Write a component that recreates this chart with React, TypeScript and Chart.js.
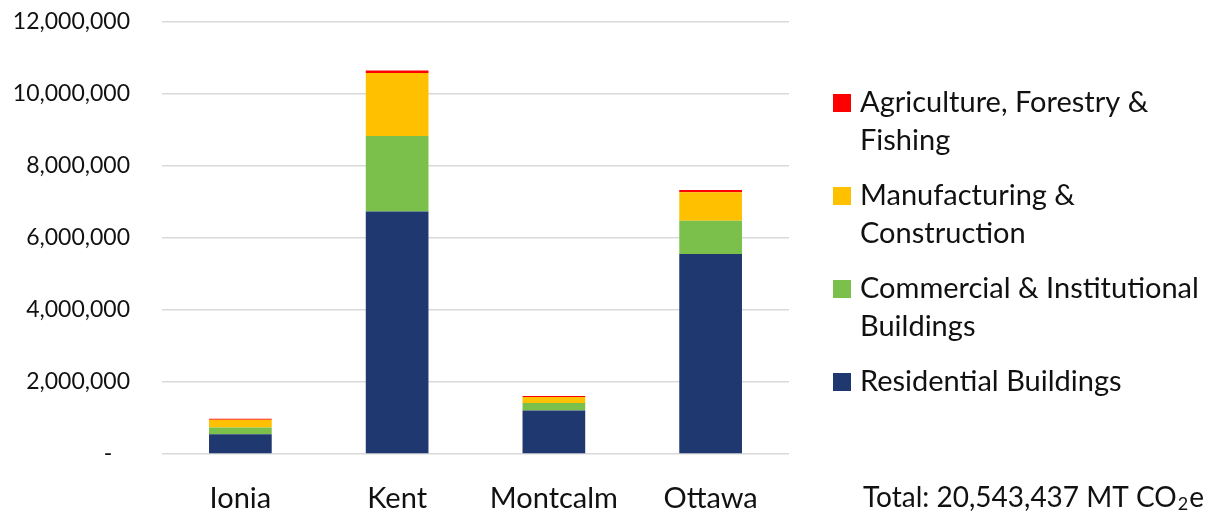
import { useEffect, useRef } from 'react';
import { Chart, registerables } from 'chart.js';

Chart.register(...registerables);

const categories = ['Ionia', 'Kent', 'Montcalm', 'Ottawa'];
const residential = [550000, 6735000, 1210000, 5556000];
const commercial = [187000, 2094000, 203000, 918000];
const manufacturing = [214000, 1752000, 167000, 790000];
const agriculture = [28000, 64000, 28000, 64000];

const seriesNames = [
  'Residential Buildings',
  'Commercial & Institutional Buildings',
  'Manufacturing & Construction',
  'Agriculture, Forestry & Fishing',
];
const seriesColors = ['#1F3870', '#7AC04A', '#FFC000', '#FF0000'];

// legend lines (top to bottom), wrapped like the reference
const legendEntries: { lines: string[]; color: string }[] = [
  { lines: ['Agriculture, Forestry &', 'Fishing'], color: seriesColors[3] },
  { lines: ['Manufacturing &', 'Construction'], color: seriesColors[2] },
  { lines: ['Commercial & Institutional', 'Buildings'], color: seriesColors[1] },
  { lines: ['Residential Buildings'], color: seriesColors[0] },
];

const totalMain = 'Total: 20,543,437 MT CO';
const totalSub = '2';
const totalEnd = 'e';

const yMax = 12000000;
const yStep = 2000000;

const FONT = 'Lato';
const TEXT = '#111111';

const sideLegend = {
  id: 'sideLegend',
  afterDraw(chart: any) {
    const ctx = chart.ctx as CanvasRenderingContext2D;
    ctx.save();
    const fs = 29;
    ctx.font = `${fs}px ${FONT}`;
    ctx.textBaseline = 'middle';
    ctx.textAlign = 'left';
    let y = 103;
    for (const e of legendEntries) {
      ctx.fillStyle = e.color;
      ctx.fillRect(833, y - 9, 18, 18);
      ctx.fillStyle = TEXT;
      e.lines.forEach((l, i) => ctx.fillText(l, 860, y + i * 38));
      y += 93;
    }
    // total
    const tfs = 28;
    const ty = 498;
    let x = 863;
    ctx.font = `${tfs}px ${FONT}`;
    ctx.fillText(totalMain, x, ty);
    x += ctx.measureText(totalMain).width;
    ctx.font = `${Math.round(tfs * 0.65)}px ${FONT}`;
    ctx.fillText(totalSub, x + 1, ty + 6);
    x += ctx.measureText(totalSub).width + 2;
    ctx.font = `${tfs}px ${FONT}`;
    ctx.fillText(totalEnd, x, ty);
    ctx.restore();
  },
};

export default function App() {
  const ref = useRef<HTMLCanvasElement | null>(null);
  useEffect(() => {
    if (!ref.current) return;
    const chart = new Chart(ref.current, {
      type: 'bar',
      data: {
        labels: categories,
        datasets: [residential, commercial, manufacturing, agriculture].map((d, i) => ({
          label: seriesNames[i],
          data: d,
          backgroundColor: seriesColors[i],
          borderWidth: 0,
          barPercentage: 0.4,
          categoryPercentage: 1,
        })),
      },
      options: {
        responsive: true,
        maintainAspectRatio: false,
        animation: false,
        layout: { padding: { top: 0, right: 435, bottom: 0, left: 0 } },
        plugins: {
          legend: { display: false },
          tooltip: { enabled: false },
          title: { display: false },
        },
        scales: {
          x: {
            stacked: true,
            grid: { display: false },
            border: { display: false },
            ticks: { color: TEXT, font: { family: FONT, size: 29 }, padding: 19 },
            afterFit: (s: any) => {
              s.height = 64;
            },
          },
          y: {
            stacked: true,
            min: 0,
            max: yMax,
            grid: {
              color: '#D9D9D9',
              lineWidth: 1.5,
              drawTicks: true,
              tickLength: 24,
              tickColor: 'rgba(0,0,0,0)',
            },
            border: { display: false },
            ticks: {
              stepSize: yStep,
              color: TEXT,
              padding: 8,
              font: { family: FONT, size: 23 },
              callback: (v: any) => (Number(v) === 0 ? '-   ' : Number(v).toLocaleString('en-US')),
            },
            afterFit: (s: any) => {
              s.width = 162;
            },
          },
        },
      },
      plugins: [sideLegend],
    });
    return () => chart.destroy();
  }, []);
  return (
    <div style={{ position: 'fixed', left: 0, top: 0, width: 1224, height: 518, background: '#fff' }}>
      <canvas ref={ref} />
    </div>
  );
}
